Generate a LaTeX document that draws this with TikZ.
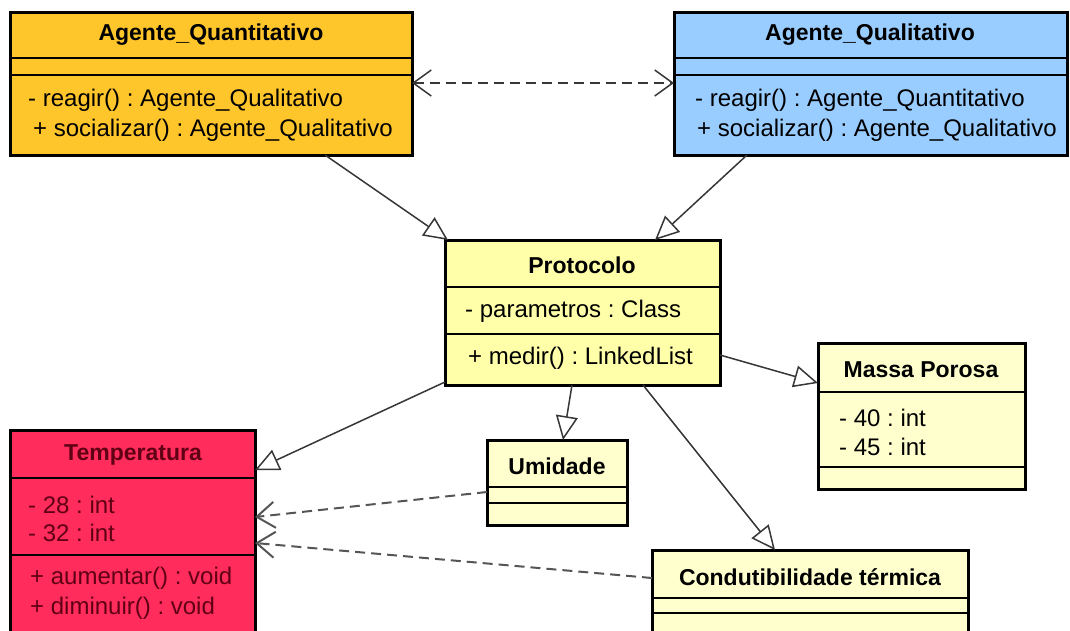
\documentclass[tikz,border=0pt]{standalone}
\usepackage{fontspec}
\setmainfont{Liberation Sans}
\usetikzlibrary{arrows.meta}
\frenchspacing
\definecolor{quantfill}{RGB}{255,198,44}
\definecolor{qualfill}{RGB}{153,204,255}
\definecolor{protfill}{RGB}{255,255,170}
\definecolor{notefill}{RGB}{255,255,206}
\definecolor{tempfill}{RGB}{255,44,92}
\definecolor{temptext}{RGB}{96,0,20}
\definecolor{linkgray}{RGB}{55,55,55}
\definecolor{dashgray}{RGB}{85,85,85}
\begin{document}
\begin{tikzpicture}[x=1pt,y=-1pt,
  cls/.style={draw,line width=3pt,anchor=north west,outer sep=0pt,inner sep=0pt},
  hd/.style={font=\fontsize{23}{27}\selectfont\bfseries,inner sep=0pt},
  txt/.style={font=\fontsize{24}{28}\selectfont,anchor=west,inner sep=0pt},
  sep/.style={line width=1.5pt},
  gen/.style={draw=linkgray,line width=1.5pt,-{Triangle[open,length=24pt,width=22pt]}},
  dep/.style={draw=dashgray,line width=2pt,dash pattern=on 10pt off 6pt,-{Straight Barb[length=18pt,width=26pt]}}]
\clip (0,0) rectangle (1070,630);
%
\node[cls,fill=quantfill,minimum width=402,minimum height=143](quant) at (10,12) {};
\node[cls,fill=qualfill,minimum width=393,minimum height=143](qual) at (674,12) {};
\node[cls,fill=protfill,minimum width=275,minimum height=145](prot) at (445,240) {};
\node[cls,fill=notefill,minimum width=207,minimum height=146](massa) at (818,343) {};
\node[cls,fill=tempfill,minimum width=245,minimum height=220](temp) at (10,430) {};
\node[cls,fill=notefill,minimum width=140,minimum height=85](umid) at (487,440) {};
\node[cls,fill=notefill,minimum width=316,minimum height=100](cond) at (652,550) {};
%
\foreach \b/\y in {quant/58,quant/75,qual/58,qual/75,prot/287,prot/334,massa/392,massa/467,
  temp/478,temp/555,umid/487,umid/503,cond/598,cond/613}{\draw[sep](\b.west |- 0,\y)--(\b.east |- 0,\y);}
%
\node[hd](quantname) at (211,35) {Agente\_Quantitativo};
\node[txt](quantm1) at (28,100) {- reagir() : Agente\_Qualitativo};
\node[txt](quantm2) at (33,130) {+ socializar() : Agente\_Qualitativo};
%
\node[hd](qualname) at (870,35) {Agente\_Qualitativo};
\node[txt](qualm1) at (695,100) {- reagir() : Agente\_Quantitativo};
\node[txt](qualm2) at (697,130) {+ socializar() : Agente\_Qualitativo};
%
\node[hd](protname) at (582,265) {Protocolo};
\node[txt](prota1) at (465,311) {- parametros : Class};
\node[txt](protm1) at (468,358) {+ medir() : LinkedList};
%
\node[hd](massaname) at (921,370) {Massa Porosa};
\node[txt](massaa1) at (839,418) {- 40 : int};
\node[txt](massaa2) at (839,447) {- 45 : int};
%
\node[hd,text=temptext](tempname) at (133,455) {Temperatura};
\node[txt,text=temptext](tempa1) at (28,505) {- 28 : int};
\node[txt,text=temptext](tempa2) at (28,533) {- 32 : int};
\node[txt,text=temptext](tempm1) at (30,578) {+ aumentar() : void};
\node[txt,text=temptext](tempm2) at (30,608) {+ diminuir() : void};
%
\node[hd](umidname) at (557,466) {Umidade};
\node[hd](condname) at (810,577) {Condutibilidade térmica};
%===========================
\draw[dep,draw=linkgray,line width=1.5pt,{Straight Barb[length=18pt,width=26pt]}-{Straight Barb[length=18pt,width=26pt]}]
  (quant.east |- 0,83)--(qual.west |- 0,83);
\draw[gen](quant.south -| 325,0)--(prot.north -| 448,0);
\draw[gen](qual.south -| 747,0)--(prot.north -| 655,0);
\draw[gen](prot.west |- 0,382)--(temp.east |- 0,470);
\draw[gen](prot.south -| 572,0)--(umid.north -| 563,0);
\draw[gen](prot.south -| 643,0)--(cond.north -| 775,0);
\draw[gen](prot.east |- 0,355)--(massa.west |- 0,383);
\draw[dep](umid.west |- 0,492)--(temp.east |- 0,517);
\draw[dep](cond.west |- 0,578)--(temp.east |- 0,543);
\end{tikzpicture}
\end{document}
